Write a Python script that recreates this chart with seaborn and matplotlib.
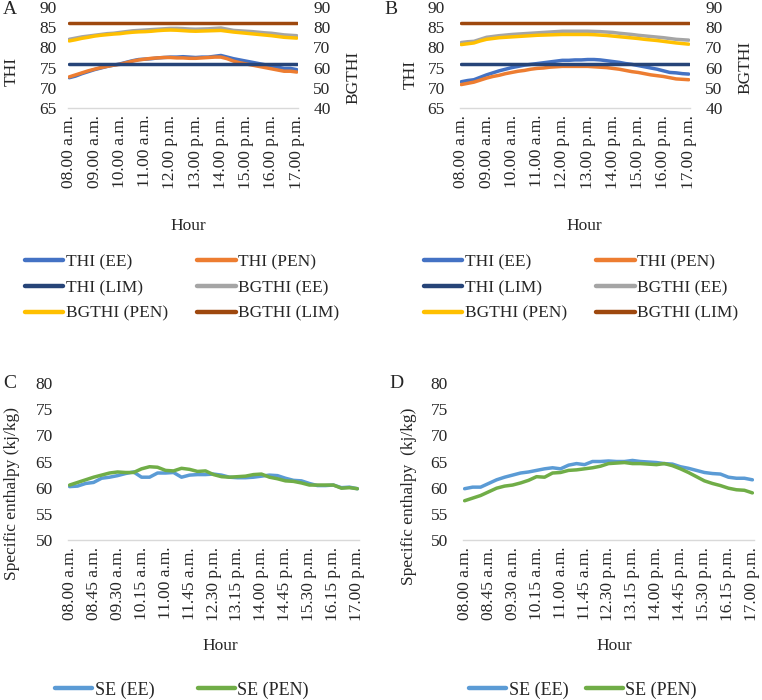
import numpy as np
import pandas as pd
import matplotlib
matplotlib.use("Agg")
import matplotlib.pyplot as plt
from matplotlib.lines import Line2D
import seaborn as sns

# 15-minute readings, 08.00 to 17.00 (37 per series)
hour_ticks_ab = ["08.00 a.m.", "09.00 a.m.", "10.00 a.m.", "11.00 a.m.", "12.00 p.m.",
                 "13.00 p.m.", "14.00 p.m.", "15.00 p.m.", "16.00 p.m.", "17.00 p.m."]
hour_ticks_cd = ["08.00 a.m.", "08.45 a.m.", "09.30 a.m.", "10.15 a.m.", "11.00 a.m.",
                 "11.45 a.m.", "12.30 p.m.", "13.15 p.m.", "14.00 p.m.", "14.45 p.m.",
                 "15.30 p.m.", "16.15 p.m.", "17.00 p.m."]

# Panel A
a_thi_ee = [72.5, 72.9, 73.5, 74.0, 74.5, 74.9, 75.3, 75.6, 75.9, 76.3, 76.7, 77.0, 77.1,
            77.2, 77.4, 77.5, 77.6, 77.6, 77.7, 77.6, 77.5, 77.6, 77.6, 77.8, 78.0, 77.6,
            77.2, 76.9, 76.6, 76.3, 76.0, 75.7, 75.4, 75.1, 74.8, 74.8, 74.5]
a_thi_pen = [72.7, 73.2, 73.7, 74.2, 74.6, 75.0, 75.3, 75.6, 75.8, 76.2, 76.6, 76.9, 77.1,
             77.3, 77.4, 77.5, 77.5, 77.4, 77.4, 77.3, 77.3, 77.4, 77.5, 77.6, 77.6, 77.2,
             76.6, 76.2, 75.9, 75.6, 75.3, 75.0, 74.7, 74.4, 74.1, 74.1, 73.9]
a_bgthi_ee = [74.0, 74.6, 75.2, 75.6, 76.0, 76.4, 76.8, 77.0, 77.4, 77.8, 78.2, 78.4, 78.6,
              78.8, 79.0, 79.2, 79.4, 79.4, 79.3, 79.1, 79.0, 79.1, 79.2, 79.4, 79.6, 79.0,
              78.4, 78.2, 78.0, 77.8, 77.5, 77.2, 77.0, 76.6, 76.2, 76.0, 75.8]
a_bgthi_pen = [73.2, 73.8, 74.5, 75.0, 75.6, 76.0, 76.3, 76.6, 76.8, 77.2, 77.5, 77.7, 77.8,
               78.0, 78.3, 78.5, 78.6, 78.5, 78.3, 78.1, 78.0, 78.1, 78.2, 78.3, 78.4, 78.0,
               77.6, 77.3, 77.0, 76.7, 76.4, 76.1, 75.8, 75.4, 75.0, 74.8, 74.6]
a_thi_lim = [76.0] * 37
a_bgthi_lim = [82.0] * 37

# Panel B
b_thi_ee = [71.5, 71.8, 72.0, 72.6, 73.2, 73.7, 74.2, 74.6, 75.0, 75.3, 75.6, 75.8, 76.0,
            76.2, 76.4, 76.6, 76.8, 76.8, 76.9, 76.9, 77.0, 77.0, 76.9, 76.7, 76.5, 76.3,
            76.0, 75.8, 75.5, 75.2, 74.9, 74.6, 74.2, 73.8, 73.7, 73.5, 73.4]
b_thi_pen = [70.8, 71.1, 71.4, 71.9, 72.4, 72.8, 73.1, 73.5, 73.8, 74.1, 74.3, 74.6, 74.8,
             74.9, 75.1, 75.2, 75.3, 75.3, 75.3, 75.3, 75.3, 75.2, 75.1, 75.0, 74.8, 74.6,
             74.3, 74.0, 73.8, 73.5, 73.2, 73.0, 72.8, 72.5, 72.2, 72.1, 72.0]
b_bgthi_ee = [72.4, 72.8, 73.0, 74.0, 75.0, 75.4, 75.8, 76.1, 76.4, 76.6, 76.8, 77.0, 77.2,
              77.4, 77.6, 77.8, 78.0, 78.0, 78.0, 78.0, 78.0, 77.9, 77.8, 77.6, 77.4, 77.0,
              76.7, 76.4, 76.0, 75.7, 75.4, 75.1, 74.8, 74.4, 74.0, 73.8, 73.6]
b_bgthi_pen = [71.4, 71.8, 72.2, 73.2, 74.0, 74.4, 74.8, 75.0, 75.2, 75.4, 75.6, 75.8, 76.0,
               76.1, 76.2, 76.3, 76.4, 76.4, 76.4, 76.4, 76.4, 76.3, 76.1, 75.9, 75.6, 75.3,
               75.0, 74.7, 74.4, 74.0, 73.7, 73.4, 73.0, 72.6, 72.2, 71.9, 71.6]
b_thi_lim = [76.0] * 37
b_bgthi_lim = [82.0] * 37

# Panel C
c_se_ee = [60.2, 60.3, 60.8, 61.0, 61.8, 62.0, 62.3, 62.7, 63.0, 62.0, 62.0, 62.8, 62.8,
           62.9, 62.0, 62.4, 62.5, 62.5, 62.6, 62.4, 62.0, 61.9, 61.9, 62.0, 62.2, 62.4,
           62.3, 61.8, 61.4, 61.3, 60.8, 60.4, 60.4, 60.5, 60.0, 60.1, 59.8]
c_se_pen = [60.5, 61.0, 61.5, 62.0, 62.4, 62.8, 63.0, 62.9, 62.9, 63.6, 64.0, 63.9, 63.3,
            63.2, 63.7, 63.5, 63.1, 63.2, 62.5, 62.1, 62.0, 62.1, 62.2, 62.5, 62.6, 62.0,
            61.7, 61.3, 61.2, 60.9, 60.5, 60.5, 60.5, 60.5, 59.9, 60.0, 59.8]

# Panel D
d_se_ee = [59.8, 60.1, 60.1, 60.8, 61.5, 62.0, 62.4, 62.8, 63.0, 63.3, 63.6, 63.8, 63.6,
           64.3, 64.6, 64.4, 65.0, 65.0, 65.1, 65.0, 65.0, 65.2, 65.0, 64.9, 64.8, 64.6,
           64.5, 64.0, 63.7, 63.3, 62.9, 62.7, 62.6, 62.0, 61.8, 61.8, 61.5]
d_se_pen = [57.5, 58.0, 58.5, 59.2, 59.9, 60.3, 60.5, 60.9, 61.4, 62.1, 62.0, 62.8, 62.9,
            63.3, 63.4, 63.6, 63.8, 64.1, 64.6, 64.7, 64.8, 64.6, 64.6, 64.5, 64.4, 64.6,
            64.2, 63.6, 62.9, 62.1, 61.3, 60.8, 60.4, 59.9, 59.6, 59.5, 59.0]

thi_colors = {"THI (EE)": "#4472C4", "THI (PEN)": "#ED7D31", "THI (LIM)": "#264478",
              "BGTHI (EE)": "#A5A5A5", "BGTHI (PEN)": "#FFC000", "BGTHI (LIM)": "#9E480E"}
se_colors = {"SE (EE)": "#5B9BD5", "SE (PEN)": "#70AD47"}

sns.set_style("white")
plt.rcParams["font.family"] = ["Liberation Serif", "DejaVu Serif"]
plt.rcParams["font.size"] = 12.5

W, H = 762, 700
fig = plt.figure(figsize=(W / 100, H / 100), dpi=100)


def box(x0, x1, y0, y1):
    return [x0 / W, 1 - y1 / H, (x1 - x0) / W, (y1 - y0) / H]


def fx(x):
    return x / W


def fy(y):
    return 1 - y / H


lw = 2.5
pos = np.arange(37)


def tidy(ax):
    for s in ax.spines.values():
        s.set_visible(False)
    ax.spines["bottom"].set_visible(True)
    ax.spines["bottom"].set_color("#D9D9D9")
    ax.spines["bottom"].set_linewidth(1.0)


def thi_panel(rect, thi_ee, thi_pen, thi_lim, bg_ee, bg_pen, bg_lim, lab):
    ax = fig.add_axes(rect)
    ax2 = ax.twinx()
    df = pd.DataFrame({"x": pos, "THI (EE)": thi_ee, "THI (PEN)": thi_pen, "THI (LIM)": thi_lim,
                       "BGTHI (EE)": bg_ee, "BGTHI (PEN)": bg_pen, "BGTHI (LIM)": bg_lim})
    for name in ["THI (EE)", "THI (PEN)", "THI (LIM)"]:
        sns.lineplot(data=df, x="x", y=name, ax=ax, color=thi_colors[name], lw=lw, legend=False)
    for name in ["BGTHI (EE)", "BGTHI (PEN)", "BGTHI (LIM)"]:
        sns.lineplot(data=df, x="x", y=name, ax=ax2, color=thi_colors[name], lw=lw, legend=False)
    ax.set_ylim(65, 90)
    ax.set_yticks(range(65, 91, 5))
    ax2.set_ylim(40, 90)
    ax2.set_yticks(range(40, 91, 10))
    ax.set_xlim(-0.2, 36.2)
    ax.set_xticks(pos[::4])
    ax.set_xticklabels(hour_ticks_ab, rotation=90)
    ax.set_xlabel("Hour")
    ax.set_ylabel("THI")
    ax2.set_ylabel("BGTHI")
    ax.xaxis.set_label_coords(fx(lab["hour"][0]), fy(lab["hour"][1]), transform=fig.transFigure)
    ax.xaxis.label.set_va("center")
    ax.yaxis.set_label_coords(fx(lab["thi"][0]), fy(lab["thi"][1]), transform=fig.transFigure)
    ax.yaxis.label.set_va("center")
    ax2.yaxis.set_label_coords(fx(lab["bg"][0]), fy(lab["bg"][1]), transform=fig.transFigure)
    ax2.yaxis.label.set_va("center")
    tidy(ax)
    for s in ax2.spines.values():
        s.set_visible(False)
    ax.tick_params(axis="x", length=0, pad=5)
    ax.tick_params(axis="y", length=0, pad=lab["lpad"])
    ax2.tick_params(axis="y", length=0, pad=lab["rpad"])
    return ax


def se_panel(rect, ee, pen, ylabel, lab):
    ax = fig.add_axes(rect)
    df = pd.DataFrame({"x": pos, "SE (EE)": ee, "SE (PEN)": pen})
    for name in ["SE (EE)", "SE (PEN)"]:
        sns.lineplot(data=df, x="x", y=name, ax=ax, color=se_colors[name], lw=lw, legend=False)
    ax.set_ylim(50, 80)
    ax.set_yticks(range(50, 81, 5))
    ax.set_xlim(-0.2, 36.2)
    ax.set_xticks(pos[::3])
    ax.set_xticklabels(hour_ticks_cd, rotation=90)
    ax.set_xlabel("Hour")
    ax.set_ylabel(ylabel)
    ax.xaxis.set_label_coords(fx(lab["hour"][0]), fy(lab["hour"][1]), transform=fig.transFigure)
    ax.xaxis.label.set_va("center")
    ax.yaxis.set_label_coords(fx(lab["y"][0]), fy(lab["y"][1]), transform=fig.transFigure)
    ax.yaxis.label.set_va("center")
    tidy(ax)
    ax.tick_params(axis="x", length=0, pad=5)
    ax.tick_params(axis="y", length=0, pad=11)
    return ax


thi_panel(box(68, 298, 7, 108), a_thi_ee, a_thi_pen, a_thi_lim, a_bgthi_ee, a_bgthi_pen, a_bgthi_lim,
          {"hour": (188, 226), "thi": (12, 71), "bg": (353, 77), "lpad": 8, "rpad": 11})
thi_panel(box(460, 690, 7, 108), b_thi_ee, b_thi_pen, b_thi_lim, b_bgthi_ee, b_bgthi_pen, b_bgthi_lim,
          {"hour": (584, 226), "thi": (411, 74), "bg": (745, 67), "lpad": 11, "rpad": 11})
se_panel(box(68, 359, 383, 540), c_se_ee, c_se_pen, "Specific enthalpy (kj/kg)",
         {"hour": (220, 646), "y": (12, 493)})
se_panel(box(463, 754, 383, 540), d_se_ee, d_se_pen, "Specific enthalpy  (kj/kg)",
         {"hour": (614, 646), "y": (409, 496)})

for label, x, y in [("A", 3, 10), ("B", 384, 10), ("C", 3, 383), ("D", 389, 383)]:
    fig.text(fx(x), fy(y), label, fontsize=14, va="center", ha="left")

# legend is filled column by column, so reorder to get Excel's row order
thi_order = ["THI (EE)", "THI (LIM)", "BGTHI (PEN)", "THI (PEN)", "BGTHI (EE)", "BGTHI (LIM)"]
thi_handles = [Line2D([], [], color=thi_colors[k], lw=3.2, solid_capstyle="round") for k in thi_order]
for cx in (25, 424):
    fig.legend(thi_handles, thi_order, ncol=2, frameon=False, loc="center left",
               bbox_to_anchor=(fx(cx), fy(288)), fontsize=12.5, borderpad=0, borderaxespad=0,
               handlelength=2.2, handletextpad=0.15, columnspacing=1.7, labelspacing=0.55)

se_handles = [Line2D([], [], color=c, lw=3.2, solid_capstyle="round") for c in se_colors.values()]
for cx, cs in ((55, 2.4), (469, 0.95)):
    fig.legend(se_handles, list(se_colors.keys()), ncol=2, frameon=False, loc="center left",
               bbox_to_anchor=(fx(cx), fy(690)), fontsize=13, borderpad=0, borderaxespad=0,
               handlelength=2.05, handletextpad=0.15, columnspacing=cs)

fig.savefig("out.png", dpi=100)
